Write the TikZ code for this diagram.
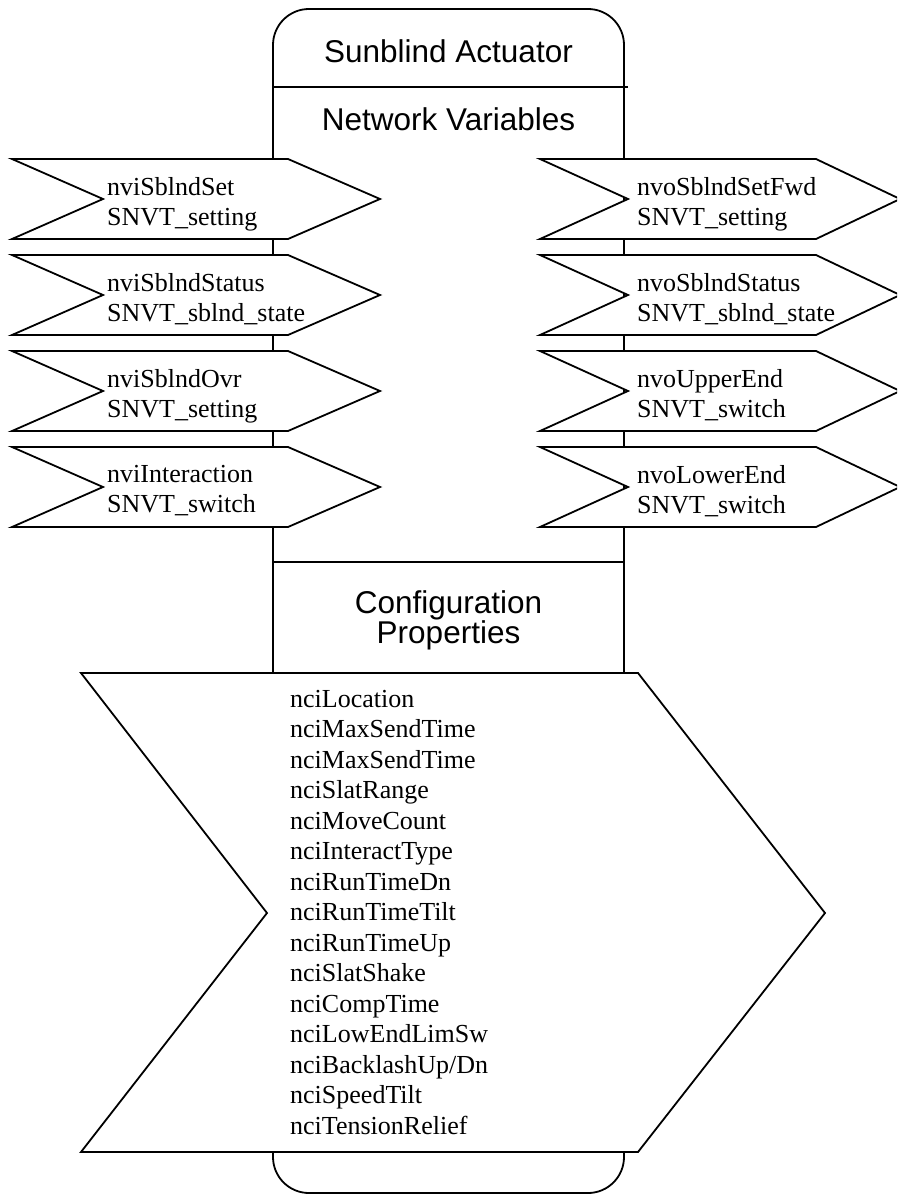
\documentclass[tikz,border=0pt]{standalone}
\usepackage{fontspec}
\setmainfont{Liberation Serif}
\setsansfont{Liberation Sans}
\usepackage{tikz}
\tikzset{%
  nvbox/.style={draw=black, fill=white, line width=1.8pt},
  nvlabel/.style={anchor=north west, inner sep=0pt, align=left, font=\fontsize{26}{30}\selectfont},
  headlabel/.style={anchor=base, inner sep=0pt, font=\sffamily\fontsize{31.5}{30}\selectfont}
}

\begin{document}
\begin{tikzpicture}[x=1pt,y=-1pt]
\clip (0,0) rectangle (897,1198);
% block outline
\draw[line width=1.8pt, rounded corners=36pt] (273,9) rectangle (624,1193);
\draw[line width=1.8pt] (273,87)--(628,87);
\draw[line width=1.8pt] (273,562)--(624,562);
\node[headlabel] (title) at (448.5,63) {Sunblind Actuator};
\node[headlabel] (nvhead) at (448.5,131) {Network Variables};
\node[headlabel, anchor=north, align=center] (cphead) at (448.5,590) {Configuration\\Properties};
   \def\nvipath{(12,0) -- (288,0) -- (380,40) -- (288,80) -- (12,80) -- (103,40) -- cycle}
   \def\nvopath{(540,0) -- (816,0) -- (900,40) -- (816,80) -- (540,80) -- (628,40) -- cycle}
% inputs
\filldraw[nvbox, shift={(0,159)}] \nvipath;
\filldraw[nvbox, shift={(0,255)}] \nvipath;
\filldraw[nvbox, shift={(0,351)}] \nvipath;
\filldraw[nvbox, shift={(0,447)}] \nvipath;
\node[nvlabel] (nvi1) at (107,177) {nviSblndSet\\SNVT\_setting};
\node[nvlabel] (nvi2) at (107,273) {nviSblndStatus\\SNVT\_sblnd\_state};
\node[nvlabel] (nvi3) at (107,369) {nviSblndOvr\\SNVT\_setting};
\node[nvlabel] (nvi4) at (107,465) {nviInteraction\\SNVT\_switch};
% outputs
\filldraw[nvbox, shift={(0,159)}] \nvopath;
\filldraw[nvbox, shift={(0,255)}] \nvopath;
\filldraw[nvbox, shift={(0,351)}] \nvopath;
\filldraw[nvbox, shift={(0,447)}] \nvopath;
\node[nvlabel] (nvo1) at (637,177) {nvoSblndSetFwd\\SNVT\_setting};
\node[nvlabel] (nvo2) at (637,273) {nvoSblndStatus\\SNVT\_sblnd\_state};
\node[nvlabel] (nvo3) at (637,369) {nvoUpperEnd\\SNVT\_switch};
\node[nvlabel] (nvo4) at (637,465) {nvoLowerEnd\\SNVT\_switch};
% configuration properties
\filldraw[nvbox] (81,673) -- (638,673) -- (825,913) -- (638,1152) -- (81,1152) -- (267,913) -- cycle;
\node[nvlabel, font=\fontsize{26}{30.5}\selectfont] (nci) at (290,690) {nciLocation\\nciMaxSendTime\\nciMaxSendTime\\nciSlatRange\\nciMoveCount\\nciInteractType\\nciRunTimeDn\\nciRunTimeTilt\\nciRunTimeUp\\nciSlatShake\\nciCompTime\\nciLowEndLimSw\\nciBacklashUp/Dn\\nciSpeedTilt\\nciTensionRelief};
\end{tikzpicture}
\end{document}
